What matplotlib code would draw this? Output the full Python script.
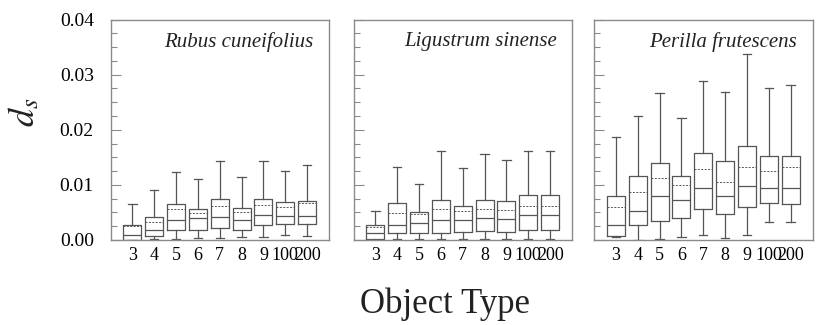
import matplotlib
matplotlib.use("Agg")
import matplotlib.pyplot as plt
from matplotlib.ticker import MultipleLocator, FormatStrFormatter

plt.rcParams['font.family'] = ['Liberation Serif', 'DejaVu Serif']
plt.rcParams['mathtext.fontset'] = 'stix'

object_types = ['3', '4', '5', '6', '7', '8', '9', '100', '200']
species = ['Rubus cuneifolius', 'Ligustrum sinense', 'Perilla frutescens']

# Per-species box statistics (lower whisker, Q1, median, mean, Q3, upper whisker)
rubus_low = [0.0000, 0.0002, 0.0001, 0.0003, 0.0003, 0.0005, 0.00055, 0.0009, 0.0007]
rubus_q1 = [0.0000, 0.0008, 0.0018, 0.0018, 0.0021, 0.0019, 0.0027, 0.0029, 0.0029]
rubus_med = [0.0009, 0.0019, 0.00365, 0.0040, 0.0041, 0.00365, 0.0046, 0.0044, 0.0044]
rubus_mean = [0.0026, 0.0033, 0.0056, 0.0049, 0.0061, 0.0050, 0.0064, 0.0060, 0.0067]
rubus_q3 = [0.00274, 0.00426, 0.0066, 0.0057, 0.0074, 0.0058, 0.0074, 0.0069, 0.0071]
rubus_high = [0.00658, 0.0090, 0.01236, 0.0111, 0.01425, 0.0114, 0.01425, 0.0126, 0.01358]

ligustrum_low = [0.0000, 0.0002, 0.0002, 0.0002, 0.0001, 0.0002, 0.0001, 0.0002, 0.0002]
ligustrum_q1 = [0.0002, 0.0012, 0.0013, 0.0012, 0.0014, 0.0016, 0.0015, 0.0018, 0.0018]
ligustrum_med = [0.0012, 0.0028, 0.0030, 0.0036, 0.0036, 0.0040, 0.0039, 0.0045, 0.0045]
ligustrum_mean = [0.0024, 0.0049, 0.0048, 0.0056, 0.0052, 0.0056, 0.0055, 0.0062, 0.0062]
ligustrum_q3 = [0.0027, 0.0067, 0.0050, 0.0073, 0.0062, 0.0072, 0.0070, 0.0081, 0.0081]
ligustrum_high = [0.0053, 0.0133, 0.0101, 0.0161, 0.0130, 0.0156, 0.0145, 0.0161, 0.0161]

perilla_low = [0.0006, 0.0000, 0.0001, 0.0006, 0.0009, 0.0004, 0.0009, 0.0032, 0.0033]
perilla_q1 = [0.0007, 0.0027, 0.0034, 0.0040, 0.0057, 0.0048, 0.0060, 0.0067, 0.0066]
perilla_med = [0.0027, 0.0053, 0.0079, 0.0073, 0.0094, 0.0080, 0.0098, 0.0094, 0.0094]
perilla_mean = [0.0060, 0.0087, 0.0113, 0.0099, 0.0129, 0.0105, 0.0133, 0.0125, 0.0133]
perilla_q3 = [0.0080, 0.0116, 0.0139, 0.0116, 0.0157, 0.0143, 0.0171, 0.0152, 0.0153]
perilla_high = [0.0187, 0.0225, 0.0266, 0.0222, 0.0288, 0.0268, 0.0337, 0.0275, 0.0282]

panels = [
    (rubus_low, rubus_q1, rubus_med, rubus_mean, rubus_q3, rubus_high),
    (ligustrum_low, ligustrum_q1, ligustrum_med, ligustrum_mean, ligustrum_q3, ligustrum_high),
    (perilla_low, perilla_q1, perilla_med, perilla_mean, perilla_q3, perilla_high),
]

W, H = 818, 325
fig = plt.figure(figsize=(W / 100, H / 100), dpi=100)

line_col = '#555555'
spine_col = '#8a8a8a'
lefts_px = [110.5, 353.5, 594.0]
ax_w_px, ax_top_px, ax_bot_px = 218.5, 19.5, 240.0

for i, (lefts, stats_cols) in enumerate(zip(lefts_px, panels)):
    ax = fig.add_axes([lefts / W, 1 - ax_bot_px / H, ax_w_px / W,
                       (ax_bot_px - ax_top_px) / H])
    low, q1, med, mean, q3, high = stats_cols
    stats = []
    for k in range(len(object_types)):
        stats.append(dict(whislo=low[k], q1=q1[k], med=med[k], mean=mean[k],
                          q3=q3[k], whishi=high[k], fliers=[]))
    positions = list(range(1, len(object_types) + 1))
    ax.bxp(stats, positions=positions, widths=0.82, showmeans=True,
           meanline=True, showfliers=False,
           boxprops=dict(color=line_col, linewidth=0.9),
           whiskerprops=dict(color=line_col, linewidth=0.9),
           capprops=dict(color=line_col, linewidth=0.9),
           medianprops=dict(color=line_col, linewidth=0.9),
           meanprops=dict(color=line_col, linewidth=0.7, linestyle=(0, (2, 1.5))),
           capwidths=0.38)
    ax.set_xlim(0, 10)
    ax.set_ylim(0, 0.04)
    ax.set_xticks(positions)
    ax.set_xticklabels(object_types, fontsize=13)
    ax.tick_params(axis='x', length=0, pad=5)
    ax.yaxis.set_major_locator(MultipleLocator(0.01))
    ax.yaxis.set_minor_locator(MultipleLocator(0.0025))
    ax.yaxis.set_major_formatter(FormatStrFormatter('%.2f'))
    ax.tick_params(axis='y', which='major', direction='in', length=7,
                   width=0.8, color=spine_col, labelsize=14, pad=12)
    ax.tick_params(axis='y', which='minor', direction='in', length=4,
                   width=0.8, color=spine_col)
    if i != 0:
        ax.tick_params(axis='y', labelleft=False)
    for s in ax.spines.values():
        s.set_color(spine_col)
        s.set_linewidth(1.0)
    ax.text(0.93, 0.9, species[i], transform=ax.transAxes, ha='right',
            va='center', fontsize=15, style='italic', color='#222222')

fig.text(25 / W, 1 - 112 / H, r'$d_s$', rotation=90, ha='center',
         va='center', fontsize=26, color='#222222')
fig.text(445 / W, 1 - 304 / H, 'Object Type', ha='center', va='center',
         fontsize=25, color='#222222')

fig.savefig('out.png', dpi=100)
